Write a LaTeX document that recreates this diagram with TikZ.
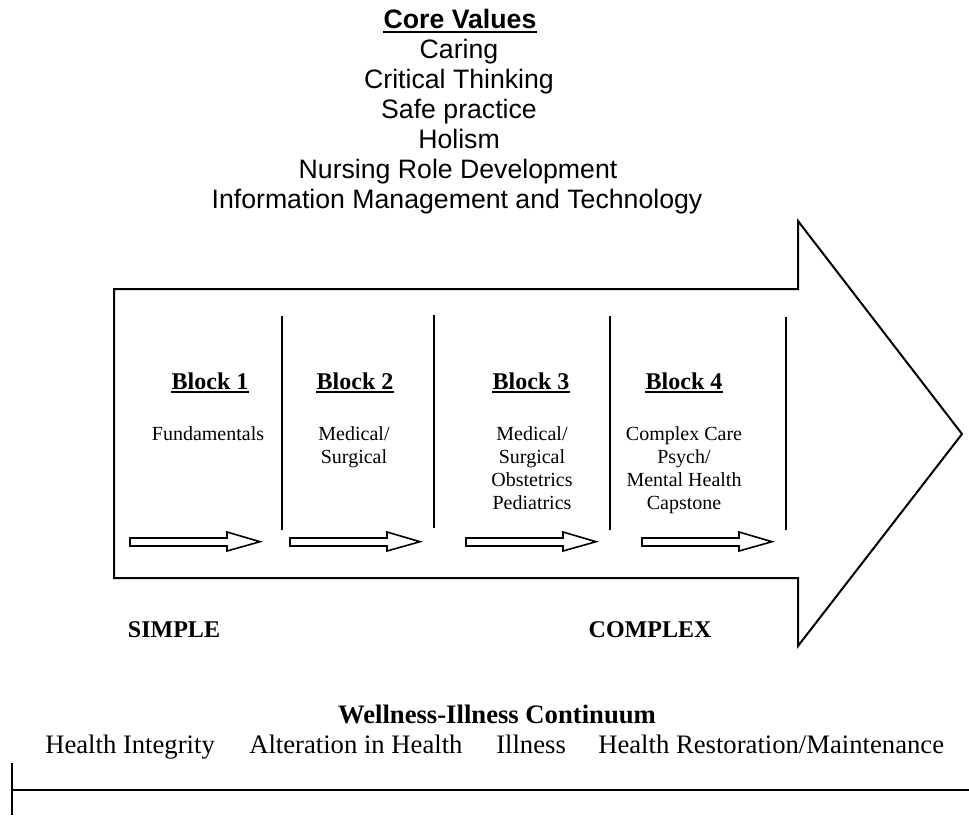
\documentclass[tikz,border=0pt]{standalone}
\usepackage{fontspec}
\setmainfont{Liberation Serif}
\newfontfamily\arialfont{Liberation Sans}
\begin{document}
\begin{tikzpicture}[x=0.75pt,y=-0.75pt,
  outline/.style={draw=black, line width=1.5pt, line join=miter},
  sepline/.style={draw=black, line width=1.5pt},
  uline/.style={draw=black, line width=1.5pt},
  lbl/.style={inner sep=0pt, anchor=base, text=black},
  core/.style={lbl, font=\arialfont\fontsize{20}{22.5}\selectfont},
  corehead/.style={lbl, font=\arialfont\bfseries\fontsize{20}{22.5}\selectfont},
  blockhead/.style={lbl, font=\bfseries\fontsize{18}{20}\selectfont},
  blocktext/.style={lbl, font=\fontsize{15}{17.25}\selectfont},
  scalelbl/.style={lbl, font=\bfseries\fontsize{18}{20}\selectfont},
  conthead/.style={lbl, font=\bfseries\fontsize{20}{22}\selectfont},
  conttext/.style={inner sep=0pt, anchor=base west, font=\fontsize{20}{22}\selectfont}
]
\useasboundingbox (0,0) rectangle (969,815);

% Core values
\node[corehead] (cv0) at (460,28) {Core Values};
\draw[uline] ([yshift=-3pt]cv0.base west) -- ([yshift=-3pt]cv0.base east);
\node[core] (cv1) at (459,58) {Caring};
\node[core] (cv2) at (459,88) {Critical Thinking};
\node[core] (cv3) at (459,118) {Safe practice};
\node[core] (cv4) at (459,148) {Holism};
\node[core] (cv5) at (458,178) {Nursing Role Development};
\node[core] (cv6) at (457,208) {Information Management and Technology};

% Big arrow
\draw[outline] (114,289) -- (798,289) -- (798,221) -- (962,434) -- (798,646) -- (798,578) -- (114,578) -- cycle;

% Separators
\draw[sepline] (282,316) -- (282,530);
\draw[sepline] (434,315) -- (434,528);
\draw[sepline] (610,316) -- (610,530);
\draw[sepline] (786,317) -- (786,530);

% Block headings
\node[blockhead] (b1) at (210,389) {Block 1};
\node[blockhead] (b2) at (355,389) {Block 2};
\node[blockhead] (b3) at (531,389) {Block 3};
\node[blockhead] (b4) at (684,389) {Block 4};
\foreach \n in {b1,b2,b3,b4}
  \draw[uline] ([yshift=-2.6pt]\n.base west) -- ([yshift=-2.6pt]\n.base east);

% Block contents (one node per line, 23px line spacing)
\node[blocktext] (t1a) at (208,440) {Fundamentals};
\node[blocktext] (t2a) at (354,440) {Medical/};
\node[blocktext] (t2b) at (354,463) {Surgical};
\node[blocktext] (t3a) at (532,440) {Medical/};
\node[blocktext] (t3b) at (532,463) {Surgical};
\node[blocktext] (t3c) at (532,486) {Obstetrics};
\node[blocktext] (t3d) at (532,509) {Pediatrics};
\node[blocktext] (t4a) at (684,440) {Complex Care};
\node[blocktext] (t4b) at (684,463) {Psych/};
\node[blocktext] (t4c) at (684,486) {Mental Health};
\node[blocktext] (t4d) at (684,509) {Capstone};

% Small arrows
\foreach \x in {130,290,466,642}
  \draw[outline, line width=1.2pt] (\x,538) -- (\x+97,538) -- (\x+97,532) -- (\x+130,541.7)
     -- (\x+97,551) -- (\x+97,546) -- (\x,546) -- cycle;

% SIMPLE / COMPLEX
\node[scalelbl] (simple) at (174,637) {SIMPLE};
\node[scalelbl] (complex) at (650,637) {COMPLEX};

% Continuum
\node[conthead] (wi) at (497,723) {Wellness-Illness Continuum};
\node[conttext] (c1) at (45,753) {Health Integrity};
\node[conttext] (c2) at (249,753) {Alteration in Health};
\node[conttext] (c3) at (496,753) {Illness};
\node[conttext] (c4) at (598,753) {Health Restoration/Maintenance};

\coordinate (lineL) at (12,790);
\coordinate (lineR) at (969,790);
\coordinate (vtop) at (12,763);
\coordinate (vbot) at (12,815);
\draw[sepline] (lineL) -- (lineR);
\draw[sepline] (vtop) -- (vbot);
\end{tikzpicture}
\end{document}
